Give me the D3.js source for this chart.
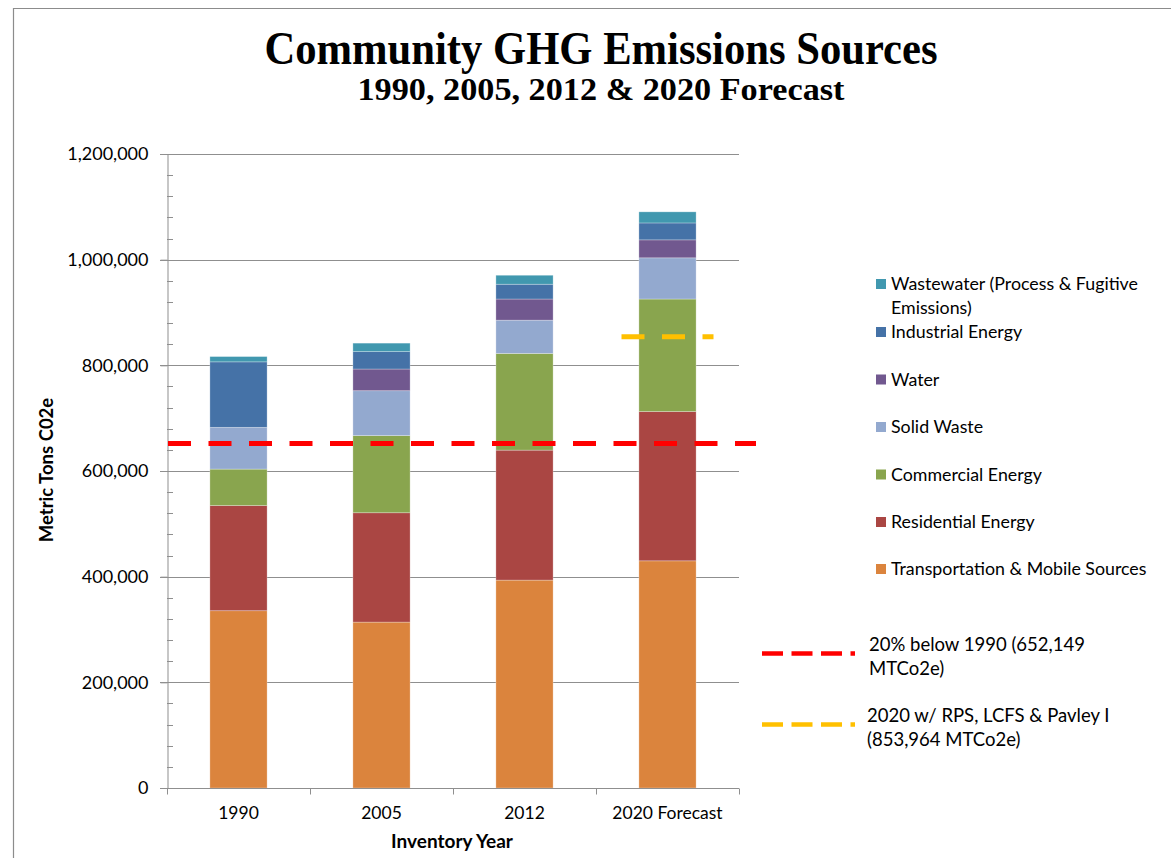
<!DOCTYPE html>
<html><head><meta charset="utf-8">
<script src="https://cdn.jsdelivr.net/npm/d3@7"></script>
<style>body{margin:0;background:#fff}svg{display:block}</style>
</head><body>
<svg id="c" width="1171" height="858"></svg>
<script>
const categories = ["1990", "2005", "2012", "2020 Forecast"];
const transport   = [335600, 314000, 393500, 430000];
const residential = [199000, 207000, 246000, 282500];
const commercial  = [69000, 146000, 183000, 213000];
const solidWaste  = [79000, 85000, 63000, 78000];
const water       = [0, 41000, 40000, 34000];
const industrial  = [124000, 33000, 28000, 32000];
const wastewater  = [10000, 16000, 17000, 21000];
const seriesNames = ["Transportation & Mobile Sources","Residential Energy","Commercial Energy","Solid Waste","Water","Industrial Energy","Wastewater (Process & Fugitive Emissions)"];
const seriesColors = ["#DB843D","#AA4643","#89A54E","#93A9CF","#71588F","#4572A7","#4198AF"];
const yTicks = [0, 200000, 400000, 600000, 800000, 1000000, 1200000];
const target1990 = 652149;
const target2020 = 853964;
const target2020Category = "2020 Forecast";

const seriesVals = [transport, residential, commercial, solidWaste, water, industrial, wastewater];
const table = categories.map((c,i)=>{const o={cat:c}; seriesNames.forEach((n,j)=>o[n]=seriesVals[j][i]); return o;});
const stack = d3.stack().keys(seriesNames)(table);

const svg = d3.select("#c");
const L=167, R=739, T=154, B=788;
const x = d3.scaleBand().domain(categories).range([L,R]).paddingInner(0.6).paddingOuter(0.3);
const y = d3.scaleLinear().domain([0,1200000]).range([B,T]);
const font = "Lato, 'Open Sans', sans-serif";

// frame
svg.append("path").attr("d","M13.5,858 V8.5 H1171").attr("fill","none").attr("stroke","#8c8c8c").attr("stroke-width",1.2);

// titles
svg.append("text").attr("x",601).attr("y",64).attr("text-anchor","middle")
  .attr("font-family","'Liberation Serif', serif").attr("font-weight","bold").attr("font-size",46)
  .attr("textLength",673).attr("lengthAdjust","spacingAndGlyphs").text("Community GHG Emissions Sources");
svg.append("text").attr("x",601).attr("y",100).attr("text-anchor","middle")
  .attr("font-family","'Liberation Serif', serif").attr("font-weight","bold").attr("font-size",32)
  .attr("textLength",487).attr("lengthAdjust","spacingAndGlyphs").text("1990, 2005, 2012 & 2020 Forecast");

// gridlines
svg.append("g").selectAll("line").data(yTicks.filter(d=>d>0)).join("line")
  .attr("x1",L-7).attr("x2",R).attr("y1",d=>Math.round(y(d))+0.5).attr("y2",d=>Math.round(y(d))+0.5)
  .attr("stroke","#8f8f8f").attr("stroke-width",1);

// y axis
const yAxis = d3.axisLeft(y).tickValues(yTicks).tickFormat(d3.format(",")).tickSize(7).tickPadding(12);
const gy = svg.append("g").attr("transform",`translate(${L+0.5},0)`).call(yAxis);
gy.select(".domain").attr("stroke","#8f8f8f");
gy.selectAll(".tick line").attr("stroke","#8f8f8f");
gy.selectAll("text").attr("font-family",font).attr("font-size",18).attr("fill","#000");
// minor ticks
const minor = d3.range(0,1200001,40000).filter(d=>d%200000!==0);
svg.append("g").selectAll("line").data(minor).join("line")
  .attr("x1",L).attr("x2",L+6).attr("y1",d=>Math.round(y(d))+0.5).attr("y2",d=>Math.round(y(d))+0.5)
  .attr("stroke","#8f8f8f");

// bars
svg.append("g").selectAll("g").data(stack).join("g").attr("fill",(d,i)=>seriesColors[i])
  .selectAll("rect").data(d=>d).join("rect")
  .attr("x",d=>x(d.data.cat)).attr("width",x.bandwidth())
  .attr("y",d=>y(d[1])).attr("height",d=>Math.max(0,y(d[0])-y(d[1])))
  .attr("stroke","rgba(255,255,255,0.35)").attr("stroke-width",0.8);

// x axis
const gx = svg.append("g").attr("transform",`translate(0,${B+0.5})`);
gx.append("line").attr("x1",L-7).attr("x2",R).attr("stroke","#8f8f8f");
const bounds = d3.range(categories.length+1).map(i=>L + i*x.step());
gx.selectAll(".tk").data(bounds).join("line").attr("class","tk")
  .attr("x1",d=>Math.round(d)+0.5).attr("x2",d=>Math.round(d)+0.5).attr("y1",0).attr("y2",6).attr("stroke","#8f8f8f");
gx.selectAll("text").data(categories).join("text")
  .attr("x",d=>x(d)+x.bandwidth()/2).attr("y",30).attr("text-anchor","middle")
  .attr("font-family",font).attr("font-size",17.5).text(d=>d);

// axis titles
svg.append("text").attr("transform","translate(53,470) rotate(-90)").attr("text-anchor","middle")
  .attr("font-family",font).attr("font-weight","bold").attr("font-size",18.5).text("Metric Tons C02e");
svg.append("text").attr("x",452).attr("y",848).attr("text-anchor","middle")
  .attr("font-family",font).attr("font-weight","bold").attr("font-size",19).text("Inventory Year");

// target lines
svg.append("line").attr("x1",L+1).attr("x2",756).attr("y1",y(target1990)).attr("y2",y(target1990))
  .attr("stroke","#FF0000").attr("stroke-width",5).attr("stroke-dasharray","23,17.5");
const cx2020 = x(target2020Category)+x.bandwidth()/2;
svg.append("line").attr("x1",cx2020-46).attr("x2",cx2020+46).attr("y1",y(target2020)).attr("y2",y(target2020))
  .attr("stroke","#FFC000").attr("stroke-width",5).attr("stroke-dasharray","23,17.5");

// legend
const legY = [284, 332, 379.5, 427, 474.5, 522, 569];
const legOrder = [6,5,4,3,2,1,0];
const lg = svg.append("g");
legOrder.forEach((si,k)=>{
  lg.append("rect").attr("x",876).attr("y",legY[k]-5).attr("width",10).attr("height",10).attr("fill",seriesColors[si]);
  const t = lg.append("text").attr("x",891).attr("y",legY[k]+6).attr("font-family",font).attr("font-size",17.8);
  if(si===6){
    t.append("tspan").attr("x",891).text("Wastewater (Process & Fugitive");
    t.append("tspan").attr("x",891).attr("dy",23.5).text("Emissions)");
  } else t.text(seriesNames[si]);
});
// line legend
const ll = [
  {c:"#FF0000", y:653.5, t:["20% below 1990 (652,149","MTCo2e)"], tx:869, ty:651},
  {c:"#FFC000", y:724.5, t:["2020 w/ RPS, LCFS & Pavley I","(853,964 MTCo2e)"], tx:867, ty:722}
];
ll.forEach(d=>{
  lg.append("line").attr("x1",762).attr("x2",855).attr("y1",d.y).attr("y2",d.y)
    .attr("stroke",d.c).attr("stroke-width",4.5).attr("stroke-dasharray","21,8.5");
  const t = lg.append("text").attr("font-family",font).attr("font-size",18.5);
  t.append("tspan").attr("x",d.tx).attr("y",d.ty).text(d.t[0]);
  t.append("tspan").attr("x",d.tx).attr("dy",23.5).text(d.t[1]);
});
</script>
</body></html>
